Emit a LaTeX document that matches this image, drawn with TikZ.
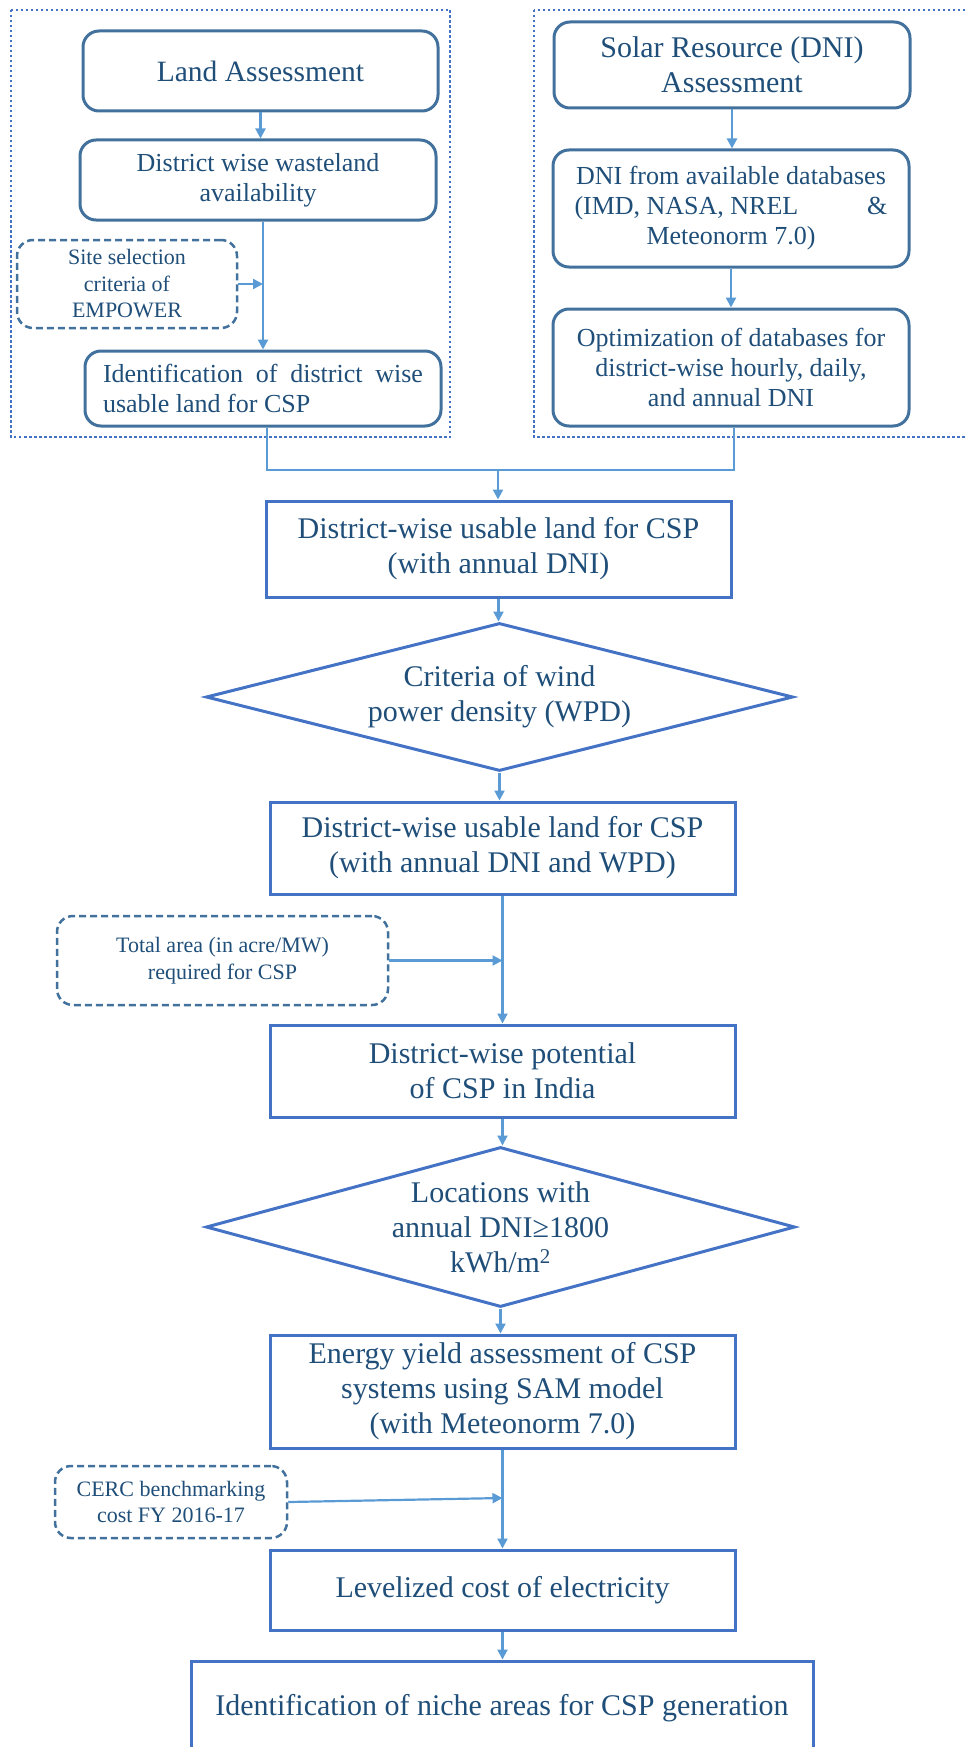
\documentclass[tikz,border=0pt]{standalone}
\usepackage{fontspec}
\setmainfont{Liberation Serif}
\usetikzlibrary{arrows.meta,shapes.geometric,calc}
\definecolor{txt}{HTML}{1F4E79}
\definecolor{rbox}{HTML}{41719C}
\definecolor{sbox}{HTML}{4472C4}
\definecolor{arrc}{HTML}{5B9BD5}
\begin{document}
\begin{tikzpicture}[x=1pt,y=1pt,
  every node/.style={text=txt, inner sep=0pt},
  rbx/.style={draw=rbox, line width=3pt, rounded corners=16pt, align=center},
  dbx/.style={draw=rbox, line width=2.5pt, rounded corners=16pt, dash pattern=on 7pt off 4pt, align=center, font=\fontsize{22}{26.5}\selectfont},
  sbx/.style={draw=sbox, line width=3pt, align=center, font=\fontsize{30}{35}\selectfont, minimum width=465pt},
  dia/.style={draw=sbox, line width=3pt, diamond, aspect=4, inner sep=-15pt, align=center, font=\fontsize{30}{35}\selectfont},
  frm/.style={draw=sbox, line width=2.5pt, dash pattern=on 2.5pt off 2.5pt},
  conn/.style={draw=arrc, line width=2.2pt},
  arw/.style={conn, -{Triangle[length=10pt,width=10pt]}},
]
\useasboundingbox (0,0) rectangle (964,-1747);

% dotted frames
\draw[frm] (11,-10) rectangle (450,-437);
\draw[frm] (534,-10) rectangle (980,-437);

% left column
\node[rbx, minimum width=355pt, minimum height=80pt, font=\fontsize{29.5}{35}\selectfont] (land) at (260.5,-71) {Land Assessment};
\node[rbx, minimum width=356pt, minimum height=80pt, font=\fontsize{26}{30}\selectfont] (waste) at (258,-180) {District wise wasteland\\availability};
\node[dbx, minimum width=220pt, minimum height=88pt] (site) at (127,-284) {Site selection\\criteria of\\EMPOWER};
\node[rbx, minimum width=356pt, minimum height=75pt, font=\fontsize{26}{30}\selectfont, text width=320pt, align=justify] (ident) at (263,-388.5) {Identification of district wise\linebreak usable land for CSP};

% right column
\node[rbx, minimum width=356pt, minimum height=86pt, font=\fontsize{30}{35}\selectfont] (solar) at (732,-65) {Solar Resource (DNI)\\Assessment};
\node[rbx, minimum width=356pt, minimum height=117pt, font=\fontsize{26}{30}\selectfont] (dnidb) at (731,-208.5) {DNI from available databases\\\makebox[313pt]{(IMD, NASA, NREL\hfill\&}\\Meteonorm 7.0)};
\node[rbx, minimum width=356pt, minimum height=117pt, font=\fontsize{26}{30}\selectfont] (optim) at (731,-367.5) {Optimization of databases for\\district-wise hourly, daily,\\and annual DNI};

% main flow
\node[sbx, minimum height=96pt] (b1) at (498.5,-549) {District-wise usable land for CSP\\(with annual DNI)};
\node[dia, minimum width=587pt, minimum height=148pt] (d1) at (499.5,-697) {Criteria of wind\\power density (WPD)};
\node[sbx, minimum height=92pt] (b2) at (502.5,-848) {District-wise usable land for CSP\\(with annual DNI and WPD)};
\node[dbx, minimum width=331pt, minimum height=89pt] (total) at (222.5,-960.5) {Total area (in acre/MW)\\required for CSP};
\node[sbx, minimum height=92pt] (b3) at (502.5,-1071) {District-wise potential\\of CSP in India};
\node[dia, minimum width=589pt, minimum height=160pt] (d2) at (500.5,-1227) {Locations with\\annual DNI≥1800\\kWh/m\textsuperscript{2}};
\node[sbx, minimum height=113pt] (b4) at (502.5,-1391.5) {Energy yield assessment of CSP\\systems using SAM model\\(with Meteonorm 7.0)};
\node[dbx, minimum width=232pt, minimum height=72pt] (cerc) at (171,-1502) {CERC benchmarking\\cost FY 2016-17};
\node[sbx, minimum height=80pt] (b5) at (502.5,-1590) {Levelized cost of electricity};
\node[sbx, minimum width=622pt, minimum height=94pt] (b6) at (502,-1708) {Identification of niche areas for CSP generation};

% connectors
\draw[arw] (land.south) -- (land.south |- waste.north);
\draw[arw] (waste.south -| ident.north) -- (ident.north);
\draw[arw] (site.east) -- (site.east -| ident.north);
\draw[arw] (solar.south) -- (solar.south |- dnidb.north);
\draw[arw] (dnidb.south) -- (dnidb.south |- optim.north);
\coordinate (jL) at (267,-470);
\coordinate (jR) at (734,-470);
\coordinate (jM) at (498,-470);
\draw[conn] (ident.south -| jL) -- (jL) -- (jR) -- (optim.south -| jR);
\draw[arw] (jM) -- (jM |- b1.north);
\draw[arw] (b1.south) -- (b1.south |- d1.north);
\draw[arw] (d1.south) -- (d1.south |- b2.north);
\draw[arw] (b2.south) -- (b3.north);
\draw[arw] (total.east) -- (total.east -| b2.south);
\draw[arw] (b3.south) -- (b3.south |- d2.north);
\draw[arw] (d2.south) -- (d2.south |- b4.north);
\draw[arw] (b4.south) -- (b5.north);
\draw[arw] (cerc.east) -- ($(cerc.east -| b4.south)+(0,4)$);
\draw[arw] (b5.south) -- (b5.south |- b6.north);
\end{tikzpicture}
\end{document}
